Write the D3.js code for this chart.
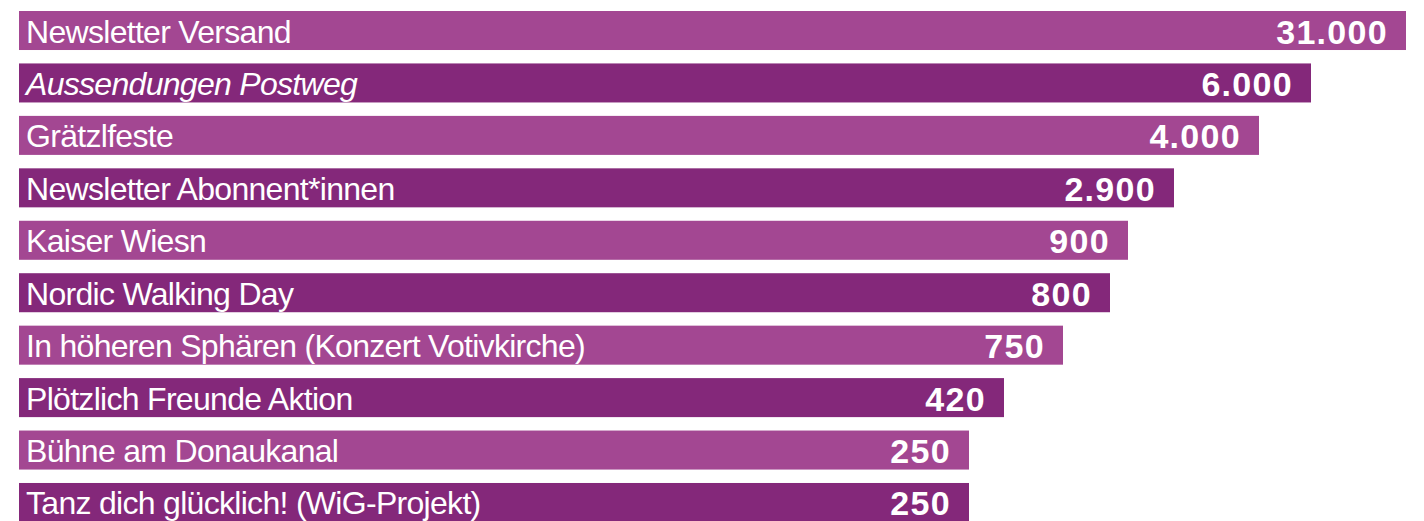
<!DOCTYPE html>
<html>
<head>
<meta charset="utf-8">
<script src="https://cdn.jsdelivr.net/npm/d3@7"></script>
<style>
  html, body { margin: 0; padding: 0; background: #fff; }
  svg { display: block; }
</style>
</head>
<body>
<svg id="chart" width="1424" height="521"></svg>
<script>
// ---- data ----
const categories = [
  "Newsletter Versand",
  "Aussendungen Postweg",
  "Grätzlfeste",
  "Newsletter Abonnent*innen",
  "Kaiser Wiesn",
  "Nordic Walking Day",
  "In höheren Sphären (Konzert Votivkirche)",
  "Plötzlich Freunde Aktion",
  "Bühne am Donaukanal",
  "Tanz dich glücklich! (WiG-Projekt)"
];
const values = [31000, 6000, 4000, 2900, 900, 800, 750, 420, 250, 250];
const italicCategories = ["Aussendungen Postweg"];

// ---- layout / style ----
const W = 1424, H = 521;
const colors = ["#A34792", "#84287A"];
const barLeft = 19;

const svg = d3.select("#chart");

// The infographic's bar lengths are not proportional to the values:
// a polylinear (piecewise) scale reproduces its non-linear value axis.
const anchorValues = [0, 250, 420, 750, 800, 900, 2900, 4000, 6000, 31000];
const anchorPos    = [barLeft, 969, 1004, 1063, 1110, 1128, 1174, 1259, 1311, 1406];
const x = d3.scaleLinear().domain(anchorValues).range(anchorPos);

const y = d3.scaleBand()
  .domain(categories)
  .range([11, 522])
  .paddingInner(0.256)
  .paddingOuter(0);

const fmt = d3.formatLocale({ decimal: ",", thousands: ".", grouping: [3], currency: ["", "€"] }).format(",");

const rows = categories.map((c, i) => ({ cat: c, val: values[i], i }));

const g = svg.append("g");

g.selectAll("rect.bar")
  .data(rows)
  .join("rect")
  .attr("class", "bar")
  .attr("x", x(0))
  .attr("y", d => y(d.cat))
  .attr("width", d => x(d.val) - x(0))
  .attr("height", y.bandwidth())
  .attr("fill", d => colors[d.i % 2]);

g.selectAll("text.label")
  .data(rows)
  .join("text")
  .attr("class", "label")
  .attr("x", x(0) + 7)
  .attr("y", d => y(d.cat) + 31.5)
  .attr("fill", "#fff")
  .style("font-family", "'Liberation Sans', Arial, Helvetica, sans-serif")
  .style("font-size", "32px")
  .style("letter-spacing", "-0.7px")
  .style("font-style", d => italicCategories.includes(d.cat) ? "italic" : "normal")
  .text(d => d.cat);

g.selectAll("text.value")
  .data(rows)
  .join("text")
  .attr("class", "value")
  .attr("x", d => x(d.val) - 18)
  .attr("y", d => y(d.cat) + 32.5)
  .attr("text-anchor", "end")
  .attr("fill", "#fff")
  .style("font-family", "'Liberation Sans', Arial, Helvetica, sans-serif")
  .style("font-size", "34px")
  .style("font-weight", "bold")
  .style("letter-spacing", "1.3px")
  .text(d => fmt(d.val));
</script>
</body>
</html>
